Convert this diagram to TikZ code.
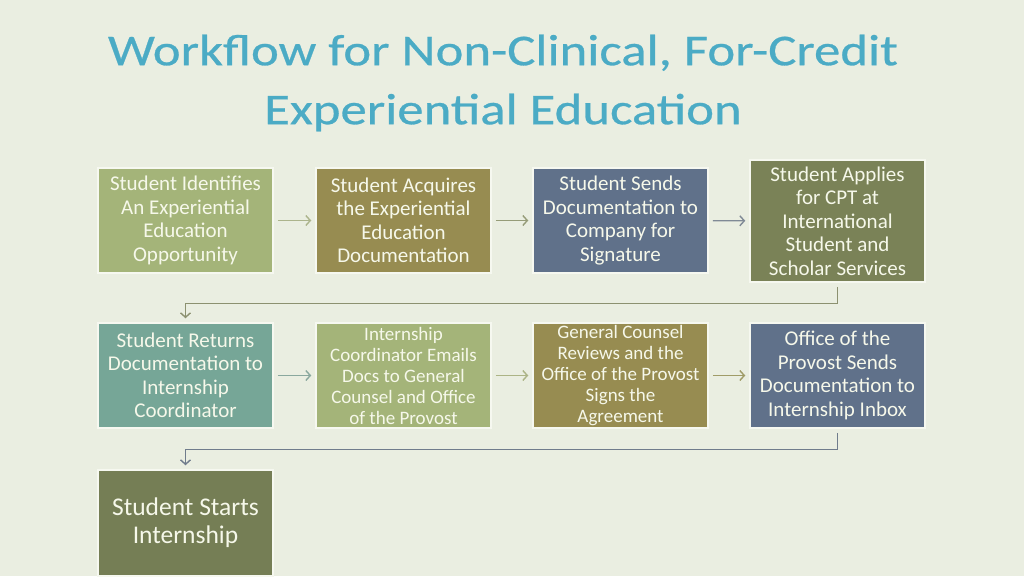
\documentclass[tikz,border=0pt]{standalone}
\usepackage{fontspec}
\setmainfont{Carlito}
\newfontfamily\titlefont[FakeStretch=1.2,FakeBold=0.6]{Carlito}
\usepackage{xcolor}
\usetikzlibrary{arrows.meta}
\tikzset{font={\fontsize{21pt}{23.5pt}\selectfont}}
\definecolor{bg}{RGB}{234,238,225}
\definecolor{titleblue}{RGB}{75,171,197}
\definecolor{boxtext}{RGB}{246,248,234}
\definecolor{edge}{RGB}{246,248,240}
\definecolor{olivelt}{RGB}{164,180,121}
\definecolor{olivebr}{RGB}{151,140,81}
\definecolor{slate}{RGB}{96,113,138}
\definecolor{olivedk}{RGB}{122,130,87}
\definecolor{teal}{RGB}{118,166,151}
\definecolor{moss}{RGB}{117,126,85}
\newcommand{\smallbox}{\fontsize{19pt}{21pt}\selectfont}

\begin{document}
\begin{tikzpicture}[x=1pt,y=-1pt,
wfbox/.style={draw=edge,line width=1.5pt,text=boxtext,align=center,minimum width=175pt,minimum height=105pt,inner sep=1pt},
flow/.style={-{Straight Barb[length=4.5pt,width=10pt]},line width=1.4pt,shorten <=4pt,shorten >=4pt}
]
\fill[bg] (0,0) rectangle (1024,576);
\useasboundingbox (0,0) rectangle (1024,576);

\node[text=titleblue,align=center,font={\titlefont\fontsize{44pt}{59pt}\selectfont}] (title) at (503,83)
  {Workflow for Non-Clinical, For-Credit\\Experiential Education};

% first row
\node[wfbox,fill=olivelt] (ident) at (185.5,220.5) {Student Identifies\\An Experiential\\Education\\Opportunity};
\node[wfbox,fill=olivebr] (acquire) at (403.5,220.5) {Student Acquires\\the Experiential\\Education\\Documentation};
\node[wfbox,fill=slate] (sends) at (620.5,220.5) {Student Sends\\Documentation to\\Company for\\Signature};
\node[wfbox,fill=olivedk,minimum height=122pt] (cpt) at (837.5,221) {Student Applies\\for CPT at\\International\\Student and\\Scholar Services};

% second row
\node[wfbox,fill=teal] (returns) at (185.5,375.5) {Student Returns\\Documentation to\\Internship\\Coordinator};
\node[wfbox,fill=olivelt,font=\smallbox] (emails) at (403.5,375.5) {Internship\\Coordinator Emails\\Docs to General\\Counsel and Office\\of the Provost};
\node[wfbox,fill=olivebr,font=\smallbox] (reviews) at (620.5,375.5) {General Counsel\\Reviews and the\\Office of the Provost\\Signs the\\Agreement};
\node[wfbox,fill=slate] (inbox) at (837.5,375.5) {Office of the\\Provost Sends\\Documentation to\\Internship Inbox};

% last
\node[wfbox,fill=moss,minimum height=106pt,font={\fontsize{25.5pt}{28pt}\selectfont}] (starts) at (185.5,523) {Student Starts\\Internship};

\draw[flow,color={rgb,255:red,172;green,180;blue,140}] (ident) -- (acquire);
\draw[flow,color={rgb,255:red,150;green,156;blue,120}] (acquire) -- (sends);
\draw[flow,color={rgb,255:red,128;green,138;blue,150}] (sends) -- (cpt);
\draw[flow,color={rgb,255:red,140;green,145;blue,112}] (cpt.south) -- ++(0,21) -| (returns.north);

\draw[flow,color={rgb,255:red,138;green,168;blue,158}] (returns) -- (emails);
\draw[flow,color={rgb,255:red,172;green,180;blue,134}] (emails) -- (reviews);
\draw[flow,color={rgb,255:red,160;green,156;blue,104}] (reviews) -- (inbox);
\draw[flow,color={rgb,255:red,112;green,124;blue,140}] (inbox.south) -- ++(0,21) -| (starts.north);
\end{tikzpicture}
\end{document}
